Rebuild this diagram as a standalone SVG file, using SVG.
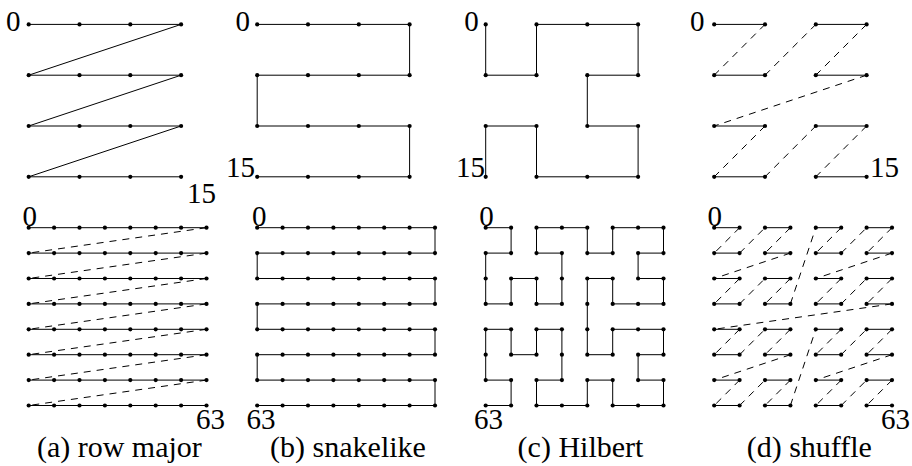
<svg xmlns="http://www.w3.org/2000/svg" xmlns:xlink="http://www.w3.org/1999/xlink" width="912" height="466" viewBox="0 0 912 466" font-family="Liberation Serif, DejaVu Serif, serif">
<style>
  .ln { fill: none; stroke: #000; stroke-width: 1; }
  .ds { fill: none; stroke: #000; stroke-width: 1; stroke-dasharray: 7 6; }
  .dot { fill: #000; }
  .lbl { font-size: 29px; }
  .cap { font-size: 30px; text-anchor: middle; }
</style>
<defs>
  <g id="row4">
    <circle class="dot" cx="0" cy="0" r="2.1"/><circle class="dot" cx="50.8" cy="0" r="2.1"/><circle class="dot" cx="101.6" cy="0" r="2.1"/><circle class="dot" cx="152.4" cy="0" r="2.1"/>
  </g>
  <g id="grid4">
    <use xlink:href="#row4" y="0"/><use xlink:href="#row4" y="50.8"/><use xlink:href="#row4" y="101.6"/><use xlink:href="#row4" y="152.4"/>
  </g>
  <g id="row8">
    <circle class="dot" cx="0" cy="0" r="2.1"/><circle class="dot" cx="25.4" cy="0" r="2.1"/><circle class="dot" cx="50.8" cy="0" r="2.1"/><circle class="dot" cx="76.2" cy="0" r="2.1"/><circle class="dot" cx="101.6" cy="0" r="2.1"/><circle class="dot" cx="127" cy="0" r="2.1"/><circle class="dot" cx="152.4" cy="0" r="2.1"/><circle class="dot" cx="177.8" cy="0" r="2.1"/>
  </g>
  <g id="grid8">
    <use xlink:href="#row8" y="0"/><use xlink:href="#row8" y="25.4"/><use xlink:href="#row8" y="50.8"/><use xlink:href="#row8" y="76.2"/><use xlink:href="#row8" y="101.6"/><use xlink:href="#row8" y="127"/><use xlink:href="#row8" y="152.4"/><use xlink:href="#row8" y="177.8"/>
  </g>
</defs>

<g id="connectors">
  <g transform="translate(28.7,24.4)">
    <polyline class="ln" points="0,0 152.4,0 0,50.8 152.4,50.8 0,101.6 152.4,101.6 0,152.4 152.4,152.4"/>
  </g>
  <g transform="translate(257.2,24.4)">
    <polyline class="ln" points="0,0 152.4,0 152.4,50.8 0,50.8 0,101.6 152.4,101.6 152.4,152.4 0,152.4"/>
  </g>
  <g transform="translate(485.7,24.4)">
    <polyline class="ln" points="0,0 0,50.8 50.8,50.8 50.8,0 152.4,0 152.4,50.8 101.6,50.8 101.6,101.6 152.4,101.6 152.4,152.4 50.8,152.4 50.8,101.6 0,101.6 0,152.4"/>
  </g>
  <g transform="translate(714.2,24.4)">
    <path class="ln" d="M0,0H50.8M101.6,0H152.4M0,50.8H50.8M101.6,50.8H152.4M0,101.6H50.8M101.6,101.6H152.4M0,152.4H50.8M101.6,152.4H152.4"/>
    <path class="ds" d="M50.8,0L0,50.8M50.8,50.8L101.6,0M152.4,0L101.6,50.8M152.4,50.8L0,101.6M50.8,101.6L0,152.4M50.8,152.4L101.6,101.6M152.4,101.6L101.6,152.4"/>
  </g>

  <g transform="translate(28.7,227.7)">
    <path class="ln" d="M0,0H177.8M0,25.4H177.8M0,50.8H177.8M0,76.2H177.8M0,101.6H177.8M0,127H177.8M0,152.4H177.8M0,177.8H177.8"/>
    <path class="ds" d="M177.8,0L0,25.4M177.8,25.4L0,50.8M177.8,50.8L0,76.2M177.8,76.2L0,101.6M177.8,101.6L0,127M177.8,127L0,152.4M177.8,152.4L0,177.8"/>
  </g>
  <g transform="translate(257.2,227.7)">
    <polyline class="ln" points="0,0 177.8,0 177.8,25.4 0,25.4 0,50.8 177.8,50.8 177.8,76.2 0,76.2 0,101.6 177.8,101.6 177.8,127 0,127 0,152.4 177.8,152.4 177.8,177.8 0,177.8"/>
  </g>
  <g transform="translate(485.7,227.7)">
    <polyline class="ln" points="0,0 25.4,0 25.4,25.4 0,25.4 0,50.8 0,76.2 25.4,76.2 25.4,50.8 50.8,50.8 50.8,76.2 76.2,76.2 76.2,50.8 76.2,25.4 50.8,25.4 50.8,0 76.2,0 101.6,0 101.6,25.4 127,25.4 127,0 152.4,0 177.8,0 177.8,25.4 152.4,25.4 152.4,50.8 177.8,50.8 177.8,76.2 152.4,76.2 127,76.2 127,50.8 101.6,50.8 101.6,76.2 101.6,101.6 101.6,127 127,127 127,101.6 152.4,101.6 177.8,101.6 177.8,127 152.4,127 152.4,152.4 177.8,152.4 177.8,177.8 152.4,177.8 127,177.8 127,152.4 101.6,152.4 101.6,177.8 76.2,177.8 50.8,177.8 50.8,152.4 76.2,152.4 76.2,127 76.2,101.6 50.8,101.6 50.8,127 25.4,127 25.4,101.6 0,101.6 0,127 0,152.4 25.4,152.4 25.4,177.8 0,177.8"/>
  </g>
  <g transform="translate(714.2,227.7)">
    <path class="ln" d="M0,0H25.4M50.8,0H76.2M101.6,0H127M152.4,0H177.8M0,25.4H25.4M50.8,25.4H76.2M101.6,25.4H127M152.4,25.4H177.8M0,50.8H25.4M50.8,50.8H76.2M101.6,50.8H127M152.4,50.8H177.8M0,76.2H25.4M50.8,76.2H76.2M101.6,76.2H127M152.4,76.2H177.8M0,101.6H25.4M50.8,101.6H76.2M101.6,101.6H127M152.4,101.6H177.8M0,127H25.4M50.8,127H76.2M101.6,127H127M152.4,127H177.8M0,152.4H25.4M50.8,152.4H76.2M101.6,152.4H127M152.4,152.4H177.8M0,177.8H25.4M50.8,177.8H76.2M101.6,177.8H127M152.4,177.8H177.8"/>
    <path class="ds" d="M25.4,0L0,25.4M25.4,25.4L50.8,0M76.2,0L50.8,25.4M76.2,25.4L0,50.8M25.4,50.8L0,76.2M25.4,76.2L50.8,50.8M76.2,50.8L50.8,76.2M76.2,76.2L101.6,0M127,0L101.6,25.4M127,25.4L152.4,0M177.8,0L152.4,25.4M177.8,25.4L101.6,50.8M127,50.8L101.6,76.2M127,76.2L152.4,50.8M177.8,50.8L152.4,76.2M177.8,76.2L0,101.6M25.4,101.6L0,127M25.4,127L50.8,101.6M76.2,101.6L50.8,127M76.2,127L0,152.4M25.4,152.4L0,177.8M25.4,177.8L50.8,152.4M76.2,152.4L50.8,177.8M76.2,177.8L101.6,101.6M127,101.6L101.6,127M127,127L152.4,101.6M177.8,101.6L152.4,127M177.8,127L101.6,152.4M127,152.4L101.6,177.8M127,177.8L152.4,152.4M177.8,152.4L152.4,177.8"/>
  </g>
</g>

<g id="panel-a-small">
  <use xlink:href="#grid4" transform="translate(28.7,24.4)"/>
  <text class="lbl" font-family="Liberation Serif" x="6" y="30.5">0</text>
  <text class="lbl" font-family="Liberation Serif" x="187" y="203">15</text>
</g>
<g id="panel-b-small">
  <use xlink:href="#grid4" transform="translate(257.2,24.4)"/>
  <text class="lbl" font-family="Liberation Serif" x="235.5" y="30.5">0</text>
  <text class="lbl" font-family="Liberation Serif" x="255" y="177" text-anchor="end">15</text>
</g>
<g id="panel-c-small">
  <use xlink:href="#grid4" transform="translate(485.7,24.4)"/>
  <text class="lbl" font-family="Liberation Serif" x="464.3" y="30.5">0</text>
  <text class="lbl" font-family="Liberation Serif" x="485" y="177" text-anchor="end">15</text>
</g>
<g id="panel-d-small">
  <use xlink:href="#grid4" transform="translate(714.2,24.4)"/>
  <text class="lbl" font-family="Liberation Serif" x="690" y="30.5">0</text>
  <text class="lbl" font-family="Liberation Serif" x="870" y="177">15</text>
</g>

<g id="panel-a-large">
  <use xlink:href="#grid8" transform="translate(28.7,227.7)"/>
  <text class="lbl" font-family="Liberation Serif" x="22.6" y="225.5">0</text>
  <text class="lbl" font-family="Liberation Serif" x="196" y="429">63</text>
  <text class="cap" font-family="Liberation Serif" x="119.4" y="457">(a) row major</text>
</g>
<g id="panel-b-large">
  <use xlink:href="#grid8" transform="translate(257.2,227.7)"/>
  <text class="lbl" font-family="Liberation Serif" x="252" y="225.5">0</text>
  <text class="lbl" font-family="Liberation Serif" x="246.5" y="429">63</text>
  <text class="cap" font-family="Liberation Serif" x="348" y="457">(b) snakelike</text>
</g>
<g id="panel-c-large">
  <use xlink:href="#grid8" transform="translate(485.7,227.7)"/>
  <text class="lbl" font-family="Liberation Serif" x="479.3" y="225.5">0</text>
  <text class="lbl" font-family="Liberation Serif" x="474" y="429">63</text>
  <text class="cap" font-family="Liberation Serif" x="580.5" y="457">(c) Hilbert</text>
</g>
<g id="panel-d-large">
  <use xlink:href="#grid8" transform="translate(714.2,227.7)"/>
  <text class="lbl" font-family="Liberation Serif" x="707.6" y="225.5">0</text>
  <text class="lbl" font-family="Liberation Serif" x="881" y="429">63</text>
  <text class="cap" font-family="Liberation Serif" x="809.3" y="457">(d) shuffle</text>
</g>
</svg>
